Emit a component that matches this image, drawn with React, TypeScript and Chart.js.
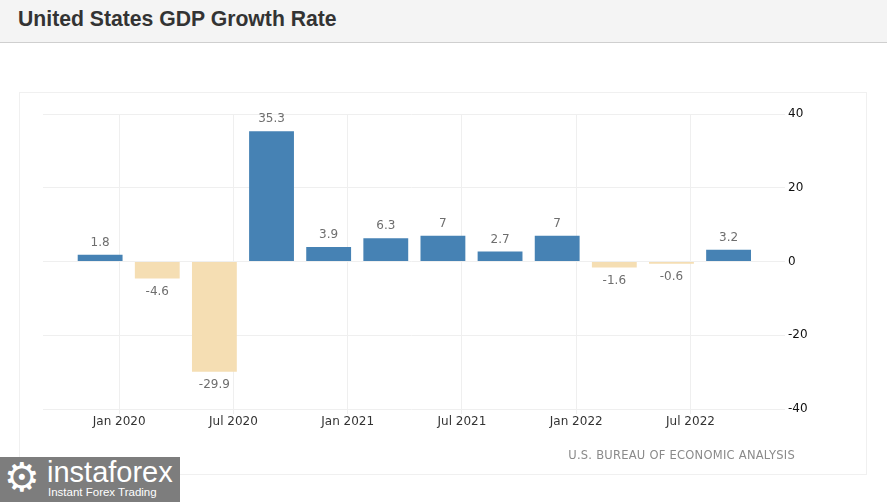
import React, { useEffect, useRef } from "react";
import { Chart, registerables } from "chart.js";

Chart.register(...registerables);

// Quarters Q4 2019 .. Q3 2022
const quarters = ["Q4 2019", "Q1 2020", "Q2 2020", "Q3 2020", "Q4 2020", "Q1 2021", "Q2 2021", "Q3 2021", "Q4 2021", "Q1 2022", "Q2 2022", "Q3 2022"];
// months since Jan 2020 of each quarter's last month
const quarterMonths = [-1, 2, 5, 8, 11, 14, 17, 20, 23, 26, 29, 32];
const gdpGrowth = [1.8, -4.6, -29.9, 35.3, 3.9, 6.3, 7, 2.7, 7, -1.6, -0.6, 3.2];
const xTickMonths = [0, 6, 12, 18, 24, 30];
const xTickLabels = ["Jan 2020", "Jul 2020", "Jan 2021", "Jul 2021", "Jan 2022", "Jul 2022"];
const yTicks = [40, 20, 0, -20, -40];

const POS = "#4682B4";
const NEG = "#F5DEB3";
const FONT = "'DejaVu Sans', Verdana, sans-serif";

const labelPlugin = {
  id: "valueLabels",
  afterDatasetsDraw(chart: any) {
    const ctx = chart.ctx;
    const meta = chart.getDatasetMeta(0);
    ctx.save();
    ctx.font = `12px ${FONT}`;
    ctx.fillStyle = "#6e6e6e";
    ctx.textAlign = "center";
    meta.data.forEach((el: any, i: number) => {
      const v = gdpGrowth[i];
      const txt = String(v);
      if (v >= 0) {
        ctx.textBaseline = "bottom";
        ctx.fillText(txt, el.x, el.y - 6);
      } else {
        ctx.textBaseline = "top";
        ctx.fillText(txt, el.x, el.y + 7);
      }
    });
    ctx.restore();
  },
};

export default function App() {
  const ref = useRef<HTMLCanvasElement | null>(null);

  useEffect(() => {
    document.body.style.margin = "0";
    if (!ref.current) return;
    const chart = new Chart(ref.current, {
      type: "bar",
      data: {
        datasets: [
          {
            label: "GDP Growth Rate",
            data: quarterMonths.map((m, i) => ({ x: m, y: gdpGrowth[i] })),
            backgroundColor: gdpGrowth.map((v) => (v >= 0 ? POS : NEG)),
            borderWidth: 0,
            categoryPercentage: 1,
            barPercentage: 0.785,
          } as any,
        ],
      },
      options: {
        animation: false,
        responsive: false,
        maintainAspectRatio: false,
        layout: { padding: { left: 23, top: 21, right: 0, bottom: 0 } },
        plugins: {
          legend: { display: false },
          tooltip: { enabled: false },
          title: { display: false },
        },
        scales: {
          x: {
            type: "linear",
            offset: false,
            min: -4,
            max: 34.7,
            afterBuildTicks: (scale: any) => {
              scale.ticks = xTickMonths.map((v) => ({ value: v }));
            },
            afterFit: (scale: any) => {
              scale.height = 66;
            },
            ticks: {
              autoSkip: false,
              maxRotation: 0,
              padding: 1,
              color: "#333",
              font: { family: FONT, size: 12 },
              callback: (v: any) => {
                const idx = xTickMonths.indexOf(Number(v));
                return idx >= 0 ? xTickLabels[idx] : "";
              },
            },
            grid: { color: "#efefef", tickLength: 5, offset: false, drawOnChartArea: true },
            border: { display: false },
          },
          y: {
            position: "right",
            min: -40,
            max: 40,
            afterBuildTicks: (scale: any) => {
              scale.ticks = yTicks.map((v) => ({ value: v }));
            },
            afterFit: (scale: any) => {
              scale.width = 87;
            },
            ticks: {
              padding: 3,
              color: "#111",
              font: { family: FONT, size: 12 },
            },
            grid: { color: "#efefef", tickLength: 5 },
            border: { display: false },
          },
        },
      },
      plugins: [labelPlugin],
    });
    return () => chart.destroy();
  }, []);

  return (
    <div style={{ position: "relative", width: 887, height: 502, background: "#fff", overflow: "hidden" }}>
      <div
        style={{
          position: "absolute",
          left: 0,
          top: 0,
          width: 887,
          height: 42,
          background: "#f4f4f4",
          borderBottom: "1px solid #cfcfcf",
        }}
      >
        <div
          style={{
            position: "absolute",
            left: 18,
            top: 7,
            fontFamily: "'Liberation Sans', Arial, sans-serif",
            fontWeight: "bold",
            fontSize: 21.2,
            color: "#333",
            whiteSpace: "nowrap",
          }}
        >
          United States GDP Growth Rate
        </div>
      </div>
      <div
        style={{
          position: "absolute",
          left: 19,
          top: 92,
          width: 848,
          height: 383,
          border: "1px solid #f0f0f0",
          boxSizing: "border-box",
        }}
      />
      <canvas
        ref={ref}
        width={847}
        height={382}
        style={{ position: "absolute", left: 20, top: 93, width: 847, height: 382 }}
      />
      <div
        style={{
          position: "absolute",
          right: 887 - 795,
          top: 448,
          fontFamily: FONT,
          fontSize: 11.5,
          color: "#8a8a8a",
          whiteSpace: "nowrap",
          letterSpacing: 0.25,
        }}
      >
        U.S. BUREAU OF ECONOMIC ANALYSIS
      </div>
      <div
        style={{
          position: "absolute",
          left: 0,
          top: 457,
          width: 180,
          height: 45,
          background: "#7d7d7d",
          color: "#fff",
          overflow: "hidden",
        }}
      >
        <div style={{ position: "absolute", left: 4, top: -2, fontSize: 40, fontFamily: "'DejaVu Sans', sans-serif", lineHeight: "44px" }}>⚙</div>
        <div
          style={{
            position: "absolute",
            left: 47,
            top: -2,
            fontSize: 29,
            fontFamily: "'Liberation Sans', Arial, sans-serif",
            lineHeight: "34px",
          }}
        >
          instaforex
        </div>
        <div
          style={{
            position: "absolute",
            left: 48,
            top: 29,
            fontSize: 11.5,
            fontFamily: "'Liberation Sans', Arial, sans-serif",
            lineHeight: "13px",
          }}
        >
          Instant Forex Trading
        </div>
      </div>
    </div>
  );
}
